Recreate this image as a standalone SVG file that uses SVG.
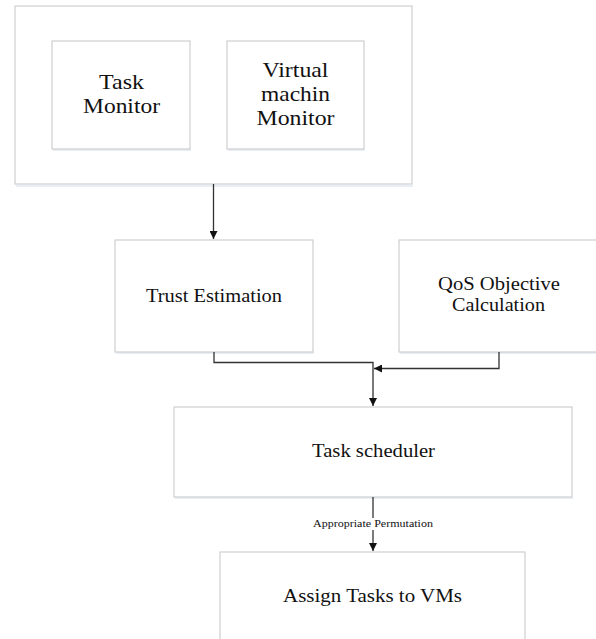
<svg xmlns="http://www.w3.org/2000/svg" width="596" height="639" viewBox="0 0 596 639">
<style>
.box{fill:#ffffff;stroke:#cfcfcf;stroke-width:1.2}
.sh{fill:#e8eef6}
.t{font-family:"Liberation Serif","Times New Roman",serif;fill:#111111;text-anchor:middle}
.c{fill:none;stroke:#333333;stroke-width:1.3}
</style>
<defs>
<marker id="ah" viewBox="0 0 10 10" refX="10" refY="5" markerWidth="8" markerHeight="8" markerUnits="userSpaceOnUse" orient="auto">
<path d="M0,0 L10,5 L0,10 Z" fill="#111111"/>
</marker>
</defs>
<rect width="596" height="639" fill="#ffffff"/>
<g id="monitor-group">
<rect class="sh" x="16" y="185" width="397" height="2"/>
<rect class="box" x="15" y="6" width="397" height="178"/>
</g>
<g id="task-monitor">
<rect class="sh" x="53" y="149" width="138" height="2"/>
<rect class="box" x="52" y="41" width="138" height="108"/>
<text class="t" font-size="21" x="121.5" y="89" textLength="45" lengthAdjust="spacingAndGlyphs">Task</text>
<text class="t" font-size="21" x="121.5" y="113" textLength="77" lengthAdjust="spacingAndGlyphs">Monitor</text>
</g>
<g id="vm-monitor">
<rect class="sh" x="228" y="149" width="137" height="2"/>
<rect class="box" x="227" y="41" width="137" height="108"/>
<text class="t" font-size="21" x="295.5" y="77" textLength="66" lengthAdjust="spacingAndGlyphs">Virtual</text>
<text class="t" font-size="21" x="295.5" y="101" textLength="69" lengthAdjust="spacingAndGlyphs">machin</text>
<text class="t" font-size="21" x="295.5" y="125" textLength="78" lengthAdjust="spacingAndGlyphs">Monitor</text>
</g>
<g id="trust-estimation">
<rect class="sh" x="116" y="352" width="198" height="2"/>
<rect class="box" x="115" y="240" width="198" height="112"/>
<text class="t" font-size="18.5" x="214" y="301.5" textLength="136" lengthAdjust="spacingAndGlyphs">Trust Estimation</text>
</g>
<g id="qos-calculation">
<rect class="sh" x="400" y="352" width="200" height="2"/>
<rect class="box" x="399" y="240" width="205" height="112"/>
<text class="t" font-size="18.5" x="499" y="290" textLength="122" lengthAdjust="spacingAndGlyphs">QoS Objective</text>
<text class="t" font-size="18.5" x="498.5" y="311" textLength="93" lengthAdjust="spacingAndGlyphs">Calculation</text>
</g>
<g id="task-scheduler">
<rect class="sh" x="175" y="497" width="398" height="2"/>
<rect class="box" x="174" y="407" width="398" height="90"/>
<text class="t" font-size="18.5" x="373.5" y="456.5" textLength="123" lengthAdjust="spacingAndGlyphs">Task scheduler</text>
</g>
<g id="assign-tasks">
<rect class="box" x="220" y="552" width="305" height="95"/>
<text class="t" font-size="18.5" x="372.5" y="602" textLength="179" lengthAdjust="spacingAndGlyphs">Assign Tasks to VMs</text>
</g>
<g id="connectors">
<path class="c" d="M213.5,184 V239" marker-end="url(#ah)"/>
<path class="c" d="M214,352 V362.5 H373 V406" marker-end="url(#ah)"/>
<path class="c" d="M499,352 V368.5 H374" marker-end="url(#ah)"/>
<path class="c" d="M373,497 V518"/>
<path class="c" d="M373,530 V551" marker-end="url(#ah)"/>
<text class="t" font-size="10" x="373" y="527" textLength="120" lengthAdjust="spacingAndGlyphs">Appropriate Permutation</text>
</g>
</svg>
